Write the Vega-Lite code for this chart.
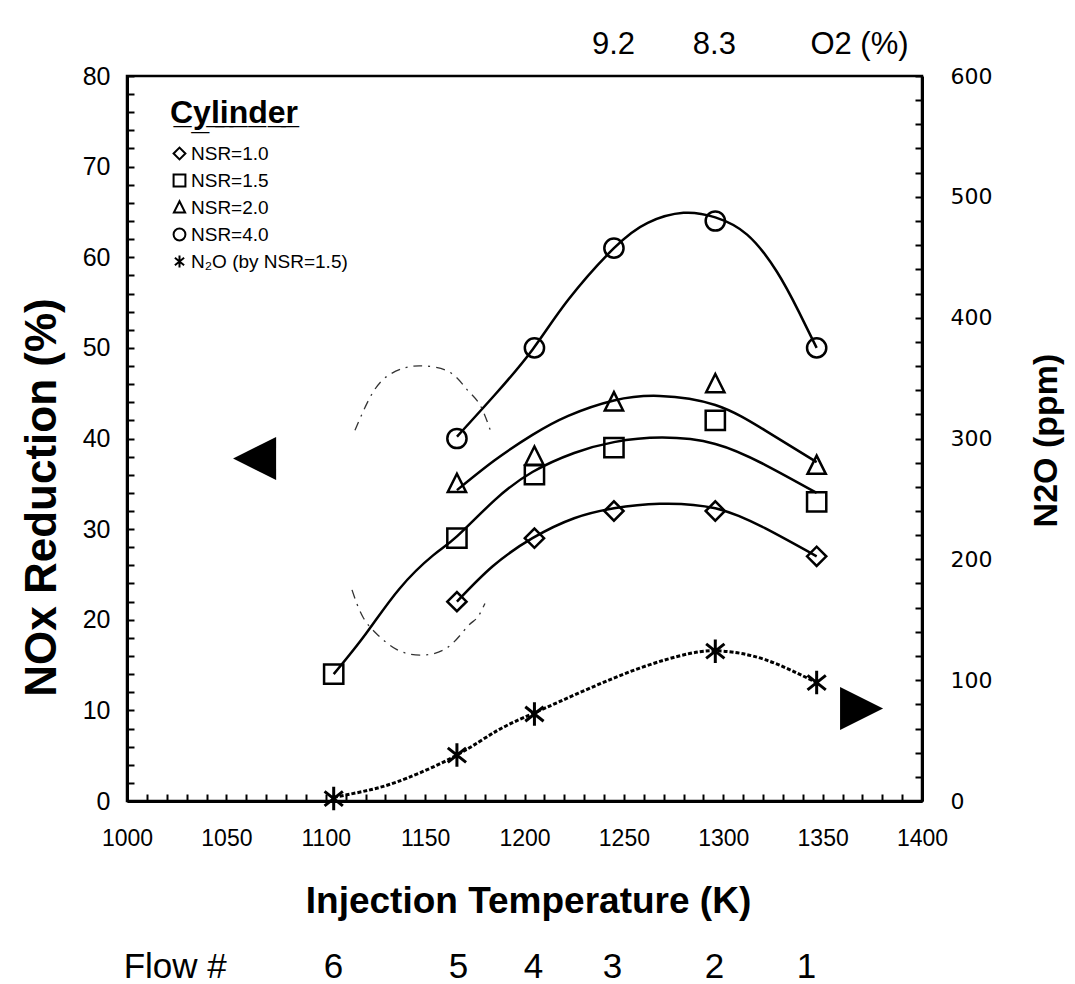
{
  "$schema": "https://vega.github.io/schema/vega-lite/v6.json",
  "width": 795,
  "height": 725,
  "autosize": {"type": "none"},
  "padding": {"left": 127, "top": 76, "right": 153, "bottom": 183},
  "background": "white",
  "config": {
    "font": "Liberation Sans",
    "view": {"stroke": "black", "strokeWidth": 2.5},
    "axis": {"grid": false, "labelColor": "black", "titleColor": "black", "domainColor": "black", "tickColor": "black", "labelFont": "Liberation Sans", "titleFont": "Liberation Sans", "labelOverlap": false},
    "legend": {"symbolStrokeColor": "black", "symbolStrokeWidth": 2, "labelFont": "Liberation Sans", "titleFont": "Liberation Sans", "labelColor": "black", "titleColor": "black"}
  },
  "datasets": {
    "nox": [
      {"series": "NSR=1.0", "T": 1166, "v": 22}, {"series": "NSR=1.0", "T": 1205, "v": 29}, {"series": "NSR=1.0", "T": 1245, "v": 32}, {"series": "NSR=1.0", "T": 1296, "v": 32}, {"series": "NSR=1.0", "T": 1347, "v": 27},
      {"series": "NSR=1.5", "T": 1104, "v": 14}, {"series": "NSR=1.5", "T": 1166, "v": 29}, {"series": "NSR=1.5", "T": 1205, "v": 36}, {"series": "NSR=1.5", "T": 1245, "v": 39}, {"series": "NSR=1.5", "T": 1296, "v": 42}, {"series": "NSR=1.5", "T": 1347, "v": 33},
      {"series": "NSR=2.0", "T": 1166, "v": 35}, {"series": "NSR=2.0", "T": 1205, "v": 38}, {"series": "NSR=2.0", "T": 1245, "v": 44}, {"series": "NSR=2.0", "T": 1296, "v": 46}, {"series": "NSR=2.0", "T": 1347, "v": 37},
      {"series": "NSR=4.0", "T": 1166, "v": 40}, {"series": "NSR=4.0", "T": 1205, "v": 50}, {"series": "NSR=4.0", "T": 1245, "v": 61}, {"series": "NSR=4.0", "T": 1296, "v": 64}, {"series": "NSR=4.0", "T": 1347, "v": 50}
    ],
    "n2o": [
      {"series": "N₂O (by NSR=1.5)", "T": 1104, "ppm": 2}, {"series": "N₂O (by NSR=1.5)", "T": 1166, "ppm": 38}, {"series": "N₂O (by NSR=1.5)", "T": 1205, "ppm": 72}, {"series": "N₂O (by NSR=1.5)", "T": 1296, "ppm": 124}, {"series": "N₂O (by NSR=1.5)", "T": 1347, "ppm": 98}
    ],
    "fits": [
      {"series": "NSR=1.0", "T": 1166, "v": 22}, {"series": "NSR=1.0", "T": 1184, "v": 25.9}, {"series": "NSR=1.0", "T": 1204, "v": 29}, {"series": "NSR=1.0", "T": 1225, "v": 31.2}, {"series": "NSR=1.0", "T": 1245, "v": 32.3}, {"series": "NSR=1.0", "T": 1268, "v": 32.8}, {"series": "NSR=1.0", "T": 1296, "v": 32.3}, {"series": "NSR=1.0", "T": 1321, "v": 30.1}, {"series": "NSR=1.0", "T": 1347, "v": 27},
      {"series": "NSR=1.5", "T": 1104, "v": 14}, {"series": "NSR=1.5", "T": 1120, "v": 18.4}, {"series": "NSR=1.5", "T": 1137, "v": 23.4}, {"series": "NSR=1.5", "T": 1154, "v": 27.1}, {"series": "NSR=1.5", "T": 1166, "v": 29.2}, {"series": "NSR=1.5", "T": 1185, "v": 33.2}, {"series": "NSR=1.5", "T": 1204, "v": 36.3}, {"series": "NSR=1.5", "T": 1225, "v": 38.4}, {"series": "NSR=1.5", "T": 1245, "v": 39.6}, {"series": "NSR=1.5", "T": 1269, "v": 40.1}, {"series": "NSR=1.5", "T": 1296, "v": 39.4}, {"series": "NSR=1.5", "T": 1321, "v": 37.1}, {"series": "NSR=1.5", "T": 1347, "v": 34},
      {"series": "NSR=2.0", "T": 1166, "v": 34.3}, {"series": "NSR=2.0", "T": 1185, "v": 37.6}, {"series": "NSR=2.0", "T": 1204, "v": 40.4}, {"series": "NSR=2.0", "T": 1222, "v": 42.5}, {"series": "NSR=2.0", "T": 1245, "v": 44.2}, {"series": "NSR=2.0", "T": 1268, "v": 44.7}, {"series": "NSR=2.0", "T": 1296, "v": 43.7}, {"series": "NSR=2.0", "T": 1321, "v": 40.9}, {"series": "NSR=2.0", "T": 1347, "v": 37.4},
      {"series": "NSR=4.0", "T": 1166, "v": 40.2}, {"series": "NSR=4.0", "T": 1185, "v": 44.8}, {"series": "NSR=4.0", "T": 1204, "v": 49.8}, {"series": "NSR=4.0", "T": 1222, "v": 55.3}, {"series": "NSR=4.0", "T": 1245, "v": 61}, {"series": "NSR=4.0", "T": 1262, "v": 63.8}, {"series": "NSR=4.0", "T": 1280, "v": 64.9}, {"series": "NSR=4.0", "T": 1296, "v": 64.4}, {"series": "NSR=4.0", "T": 1312, "v": 62.5}, {"series": "NSR=4.0", "T": 1327, "v": 58.4}, {"series": "NSR=4.0", "T": 1338, "v": 54}, {"series": "NSR=4.0", "T": 1347, "v": 50}
    ],
    "n2ofit": [
      {"T": 1104, "ppm": 3}, {"T": 1123, "ppm": 9.5}, {"T": 1141, "ppm": 19}, {"T": 1166, "ppm": 38}, {"T": 1186, "ppm": 58}, {"T": 1205, "ppm": 73}, {"T": 1231, "ppm": 92}, {"T": 1258, "ppm": 110}, {"T": 1283, "ppm": 122}, {"T": 1300, "ppm": 124}, {"T": 1321, "ppm": 117}, {"T": 1347, "ppm": 98}
    ],
    "ellipse": [
      {"arc": "upper", "T": 1114.7, "v": 40.9}, {"arc": "upper", "T": 1120.8, "v": 43.9}, {"arc": "upper", "T": 1128.8, "v": 46.5}, {"arc": "upper", "T": 1139.9, "v": 47.8}, {"arc": "upper", "T": 1149.9, "v": 48.0}, {"arc": "upper", "T": 1162.5, "v": 47.3}, {"arc": "upper", "T": 1171.1, "v": 45.4}, {"arc": "upper", "T": 1177.6, "v": 43.7}, {"arc": "upper", "T": 1183.6, "v": 40.4},
      {"arc": "lower", "T": 1113.2, "v": 23.3}, {"arc": "lower", "T": 1118.7, "v": 20.3}, {"arc": "lower", "T": 1126.3, "v": 18.3}, {"arc": "lower", "T": 1135.8, "v": 16.7}, {"arc": "lower", "T": 1147.4, "v": 16.1}, {"arc": "lower", "T": 1161.0, "v": 16.9}, {"arc": "lower", "T": 1171.1, "v": 19.2}, {"arc": "lower", "T": 1176.1, "v": 20.2}, {"arc": "lower", "T": 1180.1, "v": 21.8}
    ],
    "arrows": [
      {"dir": "left", "T": 1064.2, "v": 37.8},
      {"dir": "right", "T": 1369.6, "v": 10.2}
    ],
    "o2": [
      {"T": 1244.5, "label": "9.2"}, {"T": 1295.3, "label": "8.3"}, {"T": 1368.3, "label": "O2 (%)"}
    ],
    "flow": [
      {"T": 1024, "label": "Flow #"}, {"T": 1103.6, "label": "6"}, {"T": 1166.5, "label": "5"}, {"T": 1204.3, "label": "4"}, {"T": 1244, "label": "3"}, {"T": 1295.3, "label": "2"}, {"T": 1341.6, "label": "1"}
    ]
  },
  "layer": [
    {
      "encoding": {
        "x": {"field": "T", "type": "quantitative", "scale": {"domain": [1000, 1400], "nice": false},
          "axis": {"orient": "bottom", "title": "Injection Temperature (K)", "values": [1000,1010,1020,1030,1040,1050,1060,1070,1080,1090,1100,1110,1120,1130,1140,1150,1160,1170,1180,1190,1200,1210,1220,1230,1240,1250,1260,1270,1280,1290,1300,1310,1320,1330,1340,1350,1360,1370,1380,1390,1400],
            "format": "d", "labelExpr": "datum.value % 50 == 0 ? datum.label : ''", "labelFlush": false, "labelOverlap": false,
            "tickSize": -7, "tickWidth": 2, "domainWidth": 3, "labelPadding": 33, "labelFontSize": 23,
            "titleFontSize": 37, "titleFontWeight": "bold", "titleX": 401, "titleY": 100, "titleBaseline": "middle", "titleAlign": "center"}},
        "y": {"field": "v", "type": "quantitative", "scale": {"domain": [0, 80], "nice": false},
          "axis": {"orient": "left", "title": "NOx Reduction (%)", "values": [0,2,4,6,8,10,12,14,16,18,20,22,24,26,28,30,32,34,36,38,40,42,44,46,48,50,52,54,56,58,60,62,64,66,68,70,72,74,76,78,80],
            "labelExpr": "datum.value % 10 == 0 ? datum.label : ''", "labelOverlap": false, "tickSize": -7, "tickWidth": 2, "domainWidth": 3, "labelPadding": 24, "labelFontSize": 25,
            "titleFontSize": 44, "titleFontWeight": "bold", "titleAngle": 270, "titleX": -85, "titleY": 421, "titleBaseline": "middle", "titleAlign": "center"}}
      },
      "layer": [
        {
          "data": {"name": "fits"},
          "mark": {"type": "line", "color": "black", "strokeWidth": 2.5, "interpolate": "natural"},
          "encoding": {"detail": {"field": "series", "type": "nominal"}}
        },
        {
          "data": {"name": "nox"},
          "mark": {"type": "point", "filled": false, "color": "black", "opacity": 1, "strokeWidth": 2.5, "size": 370},
          "encoding": {
            "shape": {"field": "series", "type": "nominal",
              "scale": {"domain": ["NSR=1.0", "NSR=1.5", "NSR=2.0", "NSR=4.0", "N₂O (by NSR=1.5)"],
                "range": ["diamond", "square", "M0,-1.05L0.95,0.85L-0.95,0.85Z", "circle", "M0,-1L0,1M-0.78,-0.62L0.78,0.62M-0.78,0.62L0.78,-0.62"]},
              "legend": {"orient": "none", "legendX": 43, "legendY": 22, "title": "C̲y̲l̲i̲n̲d̲e̲r̲", "titleFontSize": 32, "titleFontWeight": "bold", "titlePadding": 14, "labelFontSize": 19, "symbolSize": 140, "rowPadding": 6, "symbolOffset": 0, "labelOffset": 2}}
          }
        },
        {
          "data": {"name": "ellipse"},
          "mark": {"type": "line", "color": "#333333", "strokeWidth": 1.3, "strokeDash": [9, 6, 2, 6], "interpolate": "natural"},
          "encoding": {"detail": {"field": "arc", "type": "nominal"}}
        },
        {
          "data": {"name": "arrows"},
          "transform": [{"filter": "datum.dir == 'left'"}],
          "mark": {"type": "point", "filled": true, "color": "black", "opacity": 1, "size": 1850, "shape": "M-1,0L1,-1L1,1Z"}
        },
        {
          "data": {"name": "arrows"},
          "transform": [{"filter": "datum.dir == 'right'"}],
          "mark": {"type": "point", "filled": true, "color": "black", "opacity": 1, "size": 1850, "shape": "M1,0L-1,-1L-1,1Z"}
        }
      ]
    },
    {
      "encoding": {
        "x": {"field": "T", "type": "quantitative", "scale": {"domain": [1000, 1400], "nice": false}, "axis": null},
        "y": {"field": "ppm", "type": "quantitative", "scale": {"domain": [0, 600], "nice": false},
          "axis": {"orient": "right", "title": "N2O (ppm)", "values": [0,20,40,60,80,100,120,140,160,180,200,220,240,260,280,300,320,340,360,380,400,420,440,460,480,500,520,540,560,580,600],
            "labelExpr": "datum.value % 100 == 0 ? datum.label : ''", "labelOverlap": false, "tickSize": -7, "tickWidth": 2, "domainWidth": 3, "labelPadding": 35, "labelFontSize": 22, "labelFont": "DejaVu Sans",
            "titleFontSize": 34, "titleFontWeight": "bold", "titleAngle": 270, "titleX": 124, "titleY": 364, "titleBaseline": "middle", "titleAlign": "center"}}
      },
      "layer": [
        {
          "data": {"name": "n2ofit"},
          "mark": {"type": "line", "color": "black", "strokeWidth": 3, "strokeDash": [4, 2], "interpolate": "natural"}
        },
        {
          "data": {"name": "n2o"},
          "mark": {"type": "point", "filled": false, "color": "black", "opacity": 1, "strokeWidth": 3, "size": 550},
          "encoding": {
            "shape": {"field": "series", "type": "nominal",
              "scale": {"domain": ["NSR=1.0", "NSR=1.5", "NSR=2.0", "NSR=4.0", "N₂O (by NSR=1.5)"],
                "range": ["diamond", "square", "M0,-1.05L0.95,0.85L-0.95,0.85Z", "circle", "M0,-1L0,1M-0.78,-0.62L0.78,0.62M-0.78,0.62L0.78,-0.62"]}}
          }
        }
      ]
    },
    {
      "data": {"name": "o2"},
      "mark": {"type": "point", "opacity": 0},
      "encoding": {
        "x": {"field": "T", "type": "quantitative", "scale": {"domain": [1000, 1400], "nice": false},
          "axis": {"orient": "top", "title": null, "values": [1244.5, 1295.3, 1368.3], "labelExpr": "datum.value < 1270 ? '9.2' : datum.value < 1330 ? '8.3' : 'O2 (%)'",
            "domain": false, "ticks": false, "labelFlush": false, "labelOverlap": false, "labelPadding": 16, "labelFontSize": 31}},
        "y": {"field": "T", "type": "quantitative", "axis": null}
      }
    },
    {
      "data": {"name": "flow"},
      "mark": {"type": "point", "opacity": 0},
      "encoding": {
        "x": {"field": "T", "type": "quantitative", "scale": {"domain": [1000, 1400], "nice": false},
          "axis": {"orient": "bottom", "offset": 140, "title": null, "values": [1024, 1103.6, 1166.5, 1204.3, 1244, 1295.3, 1341.6],
            "labelExpr": "datum.value < 1050 ? 'Flow #' : datum.value < 1130 ? '6' : datum.value < 1185 ? '5' : datum.value < 1225 ? '4' : datum.value < 1270 ? '3' : datum.value < 1320 ? '2' : '1'",
            "domain": false, "ticks": false, "labelFlush": false, "labelOverlap": false, "labelPadding": 8, "labelFontSize": 35}},
        "y": {"field": "T", "type": "quantitative", "axis": null}
      }
    }
  ],
  "resolve": {"scale": {"x": "independent", "y": "independent", "shape": "shared"}, "legend": {"shape": "shared"}}
}
